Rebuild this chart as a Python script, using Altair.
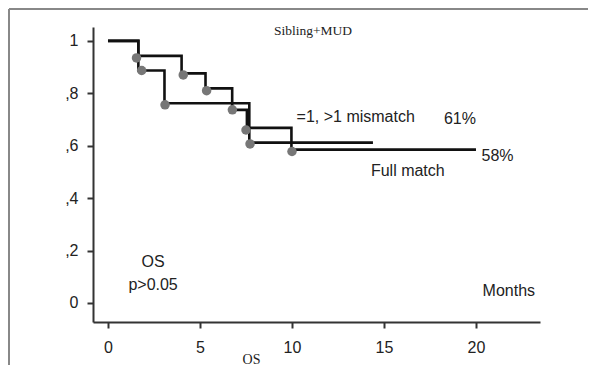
import altair as alt
import pandas as pd

# Kaplan-Meier step curves (time in months, survival)
full_t = [0, 1.65, 4.0, 5.3, 6.75, 7.55, 9.97, 20.0]
full_s = [1.0, 0.943, 0.876, 0.819, 0.737, 0.668, 0.585, 0.585]
mis_t = [0, 1.65, 3.07, 7.68, 14.4]
mis_s = [1.0, 0.887, 0.762, 0.612, 0.612]

# event markers
full_mk_t = [1.55, 4.09, 5.36, 6.76, 7.5, 10.0]
full_mk_s = [0.935, 0.87, 0.81, 0.737, 0.66, 0.578]
mis_mk_t = [1.83, 3.1, 7.72]
mis_mk_s = [0.887, 0.756, 0.607]

# annotations
ann_text = ["=1, >1 mismatch", "61%", "58%", "Full match", "OS", "p>0.05", "Months"]
ann_x = [10.25, 18.26, 20.3, 14.29, 2.45, 2.45, 20.36]
ann_y = [0.711, 0.701, 0.561, 0.504, 0.155, 0.07, 0.047]
ann_align = ["left", "left", "left", "left", "center", "center", "left"]

top_title = "Sibling+MUD"
x_title = "OS"
x_ticks = [0, 5, 10, 15, 20]
y_ticks = [0, 0.1, 0.2, 0.3, 0.4, 0.5, 0.6, 0.7, 0.8, 0.9, 1.0]

lines_df = pd.concat([
    pd.DataFrame({"t": full_t, "s": full_s, "g": "Full match"}),
    pd.DataFrame({"t": mis_t, "s": mis_s, "g": "Mismatch"}),
])
mk_df = pd.concat([
    pd.DataFrame({"t": full_mk_t, "s": full_mk_s, "g": "Full match"}),
    pd.DataFrame({"t": mis_mk_t, "s": mis_mk_s, "g": "Mismatch"}),
])
ann_df = pd.DataFrame({"text": ann_text, "x": ann_x, "y": ann_y, "align": ann_align})
title_df = pd.DataFrame({"text": [top_title], "x": [11.14], "y": [1.036]})

xs = alt.Scale(domain=[-0.815, 23.48], nice=False, zero=False)
ys = alt.Scale(domain=[-0.0725, 1.053], nice=False, zero=False)

xaxis = alt.Axis(values=x_ticks, title=x_title, grid=False, tickSize=6, labelPadding=11,
                 labelFont="Liberation Sans", labelFontSize=16, labelColor="#222",
                 titleFont="Liberation Serif", titleFontSize=14, titleFontWeight="normal",
                 titleColor="#222", titleX=158, titleY=37, titleBaseline="middle",
                 domainColor="#333", domainWidth=2, tickColor="#333", tickWidth=2)
yaxis = alt.Axis(values=y_ticks, title=None, grid=False, tickSize=6, labelPadding=9,
                 labelExpr="round(datum.value*10) == 10 ? '1' : (round(datum.value*10) == 0 ? '0' : (round(datum.value*10) % 2 == 0 ? ',' + round(datum.value*10) : ''))",
                 labelFont="Liberation Sans", labelFontSize=16, labelColor="#222",
                 domainColor="#333", domainWidth=2, tickColor="#333", tickWidth=2)

base_x = alt.X("t:Q", scale=xs, axis=xaxis)
base_y = alt.Y("s:Q", scale=ys, axis=yaxis)

lines = alt.Chart(lines_df).mark_line(interpolate="step-after", color="#111", strokeWidth=2.6).encode(
    x=base_x, y=base_y, detail="g:N"
)
points = alt.Chart(mk_df).mark_circle(color="#777", opacity=1, size=90).encode(
    x=alt.X("t:Q", scale=xs), y=alt.Y("s:Q", scale=ys)
)


def ann_layer(al):
    return alt.Chart(ann_df).transform_filter(alt.datum.align == al).mark_text(
        font="Liberation Sans", fontSize=16, color="#222", baseline="middle", align=al
    ).encode(x=alt.X("x:Q", scale=xs), y=alt.Y("y:Q", scale=ys), text="text:N")


ttl = alt.Chart(title_df).mark_text(font="Liberation Serif", fontSize=13.5, color="#222", baseline="middle", align="center").encode(
    x=alt.X("x:Q", scale=xs), y=alt.Y("y:Q", scale=ys), text="text:N"
)

frame_left = alt.Chart(pd.DataFrame({"a": [0]})).mark_rule(color="#888", strokeWidth=2).encode(
    x=alt.value(-84), y=alt.value(-18), y2=alt.value(340)
)
frame_top = alt.Chart(pd.DataFrame({"a": [0]})).mark_rule(color="#888", strokeWidth=2).encode(
    x=alt.value(-84), x2=alt.value(495), y=alt.value(-18)
)

chart = alt.layer(frame_left, frame_top, lines, points, ann_layer("left"), ann_layer("center"), ttl).properties(
    width=447, height=295, padding={"left": 85, "top": 19, "right": 48, "bottom": 43},
    autosize=alt.AutoSizeParams(type="none"),
    background="white"
).configure_view(stroke=None)

chart.save("out.html", embed_options={"renderer": "svg", "actions": False})
